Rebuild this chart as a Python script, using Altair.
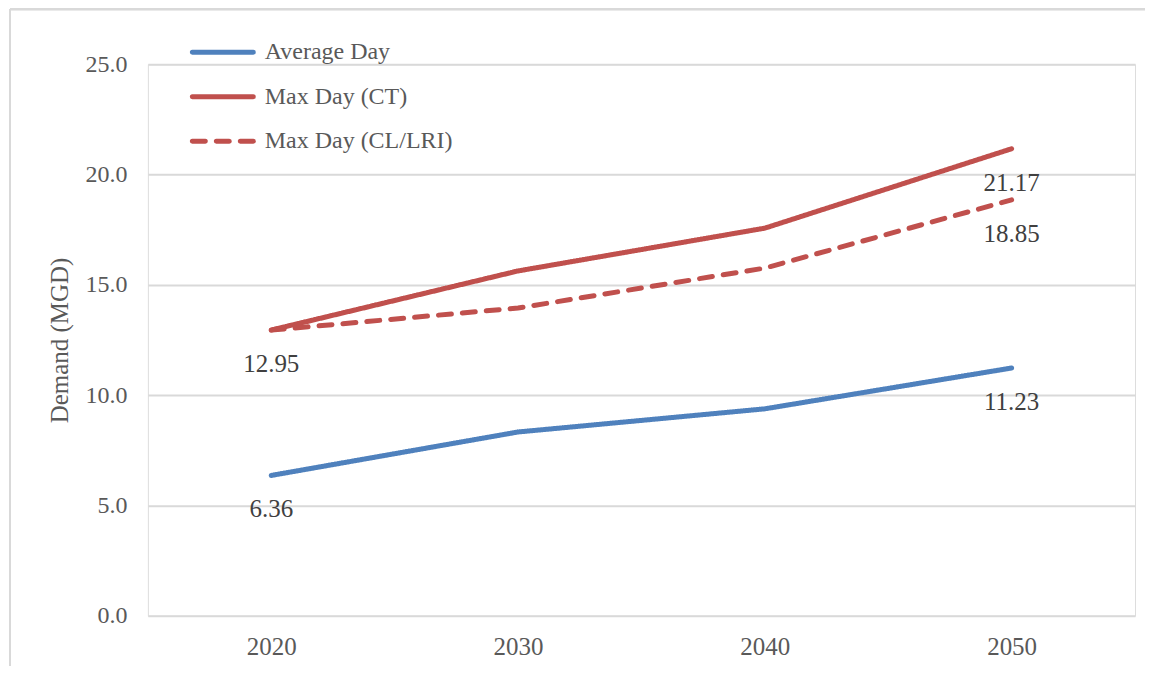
import altair as alt
import pandas as pd

years = ["2020", "2030", "2040", "2050"]
series_names = ["Average Day", "Max Day (CT)", "Max Day (CL/LRI)"]
avg_day = [6.36, 8.33, 9.38, 11.23]
max_ct = [12.95, 15.63, 17.57, 21.17]
max_cl = [12.95, 13.95, 15.76, 18.85]
label_text = [["6.36", "", "", "11.23"], ["12.95", "", "", "21.17"], ["", "", "", "18.85"]]

rows = []
for name, vals, labs in zip(series_names, [avg_day, max_ct, max_cl], label_text):
    for y, v, l in zip(years, vals, labs):
        rows.append({"Year": y, "Demand": v, "Series": name, "Label": l})
df = pd.DataFrame(rows)
legend_df = pd.DataFrame({"Series": series_names})

FONT = "Liberation Serif"
colors = ["#4f81bd", "#c0504d", "#c0504d"]
dashes = [[1, 0], [1, 0], [13, 11]]

color_scale = alt.Scale(domain=series_names, range=colors)
dash_scale = alt.Scale(domain=series_names, range=dashes)
y_scale = alt.Scale(domain=[0, 25], nice=False)
x_scale = alt.Scale(type="point", padding=0.5)

x = alt.X("Year:O", scale=x_scale,
          axis=alt.Axis(title=None, labelAngle=0, ticks=False, domain=False,
                        labelPadding=19, labelFontSize=25, labelColor="#595959", labelFont=FONT))
y = alt.Y("Demand:Q", scale=y_scale,
          axis=alt.Axis(title="Demand (MGD)", values=[0, 5, 10, 15, 20, 25], format=".1f",
                        ticks=False, domain=False, labelPadding=21, labelFontSize=24,
                        labelColor="#595959", labelFont=FONT, titleFont=FONT,
                        titleFontSize=25, titleFontWeight="normal", titleColor="#595959",
                        titlePadding=12, gridColor="#d9d9d9", gridWidth=2))

lines = alt.Chart(df).mark_line(strokeWidth=5, strokeCap="round").encode(
    x=x, y=y,
    color=alt.Color("Series:N", scale=color_scale, legend=None),
    strokeDash=alt.StrokeDash("Series:N", scale=dash_scale, legend=None),
)

labels = alt.Chart(df).mark_text(font=FONT, fontSize=25, color="#404040", dy=34).encode(
    x=alt.X("Year:O", scale=x_scale),
    y=alt.Y("Demand:Q", scale=y_scale),
    text="Label:N",
)

# legend (drawn as marks)
leg_y = alt.Y("Series:N", sort=series_names,
              scale=alt.Scale(type="point", domain=series_names, range=[-12, 77], padding=0),
              axis=None)
leg_sym = alt.Chart(legend_df).mark_rule(strokeWidth=5, strokeCap="round", clip=False).encode(
    x=alt.value(44.5), x2=alt.value(105.5), y=leg_y,
    color=alt.Color("Series:N", scale=color_scale, legend=None),
    strokeDash=alt.StrokeDash("Series:N", scale=dash_scale, legend=None),
)
leg_txt = alt.Chart(legend_df).mark_text(font=FONT, fontSize=24, color="#595959",
                                         align="left", baseline="middle", clip=False).encode(
    x=alt.value(117), y=leg_y, text="Series:N",
)

frame_left = alt.Chart(legend_df).mark_rule(color="#d9d9d9", strokeWidth=2, clip=False).encode(
    x=alt.value(-138), y=alt.value(-55), y2=alt.value(620))
frame_top = alt.Chart(legend_df).mark_rule(color="#d9d9d9", strokeWidth=2, clip=False).encode(
    x=alt.value(-138), x2=alt.value(1010), y=alt.value(-55))

main = alt.layer(frame_left, frame_top, lines, labels)
legend_layer = alt.layer(leg_sym, leg_txt)

chart = alt.layer(main, legend_layer).resolve_scale(y="independent").properties(
    width=988, height=552,
    autosize=alt.AutoSizeParams(type="none"),
    padding={"left": 140, "top": 56, "right": 10, "bottom": 50},
).configure_view(stroke=None).configure(background="white")

chart.save("out.html", embed_options={"renderer": "svg", "actions": False})
